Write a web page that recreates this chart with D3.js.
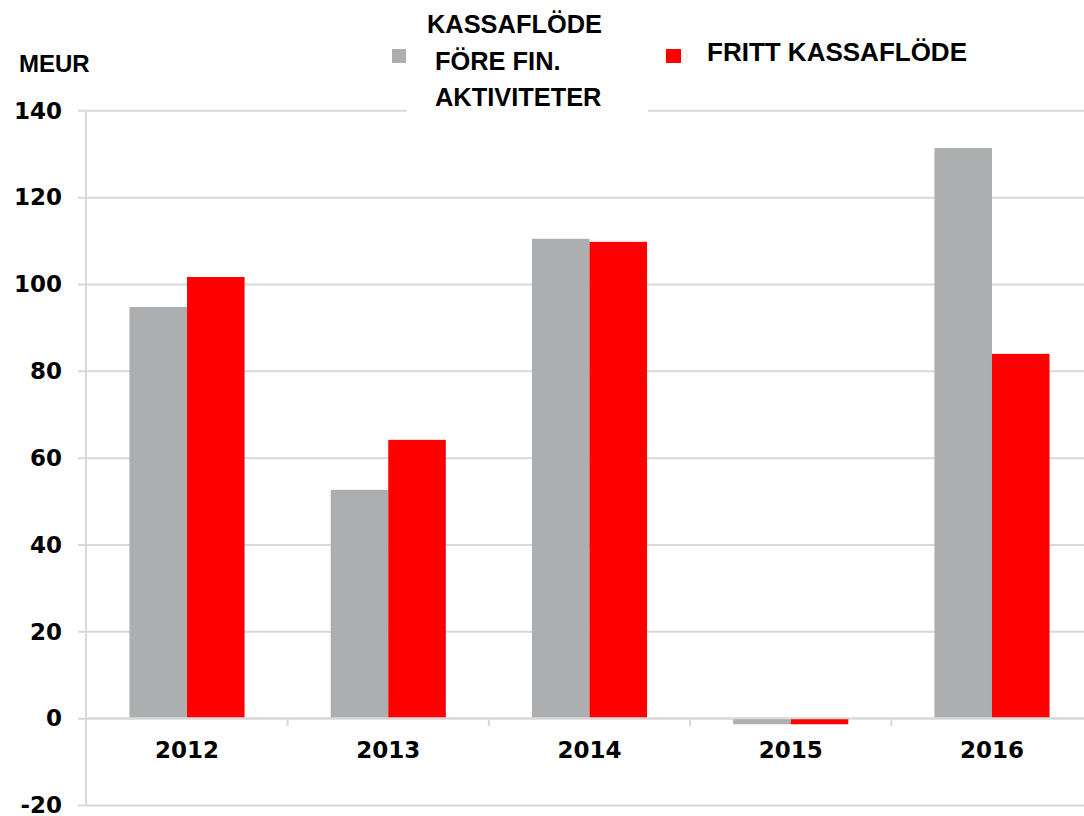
<!DOCTYPE html>
<html>
<head>
<meta charset="utf-8">
<script src="https://cdn.jsdelivr.net/npm/d3@7"></script>
<style>
  body { margin: 0; background: #fff; }
  svg { display: block; }
</style>
</head>
<body>
<script>
const YEARS = ["2012", "2013", "2014", "2015", "2016"];
const CASHFLOW_BEFORE_FIN = [94.7, 52.6, 110.4, -1.4, 131.3];
const FREE_CASHFLOW = [101.6, 64.1, 109.7, -1.4, 83.9];
const SERIES_NAMES = ["KASSAFLÖDE FÖRE FIN. AKTIVITETER", "FRITT KASSAFLÖDE"];
const Y_TICKS = [-20, 0, 20, 40, 60, 80, 100, 120, 140];

const width = 1084,
  height = 816;

const colors = ["#adaeb0", "#ff0000"];
const gridColor = "#d9d9d9";

const svg = d3
  .select("body")
  .append("svg")
  .attr("width", width)
  .attr("height", height);

const yScale = d3.scaleLinear().domain([-20, 140]).range([805, 110.3]);

const xScale = d3
  .scaleBand()
  .domain(YEARS)
  .range([86.4, 1092.6])
  .paddingInner(0.428)
  .paddingOuter(0.214);

const xInner = d3
  .scaleBand()
  .domain([0, 1])
  .range([0, xScale.bandwidth()]);

// gridlines + y axis
const yAxis = d3
  .axisLeft(yScale)
  .tickValues(Y_TICKS)
  .tickSize(-(width - 78))
  .tickSizeOuter(0)
  .tickPadding(24)
  .tickFormat(d => String(d));

const yG = svg
  .append("g")
  .attr("transform", "translate(86,0)")
  .call(yAxis);

yG.select(".domain").remove();
yG.selectAll(".tick line")
  .attr("x1", -8)
  .attr("x2", width - 86)
  .attr("stroke", gridColor)
  .attr("stroke-width", 2);
yG.selectAll(".tick text")
  .attr("fill", "#000")
  .attr("font-family", "DejaVu Sans")
  .attr("font-weight", "bold")
  .attr("font-size", 23)
  .attr("dy", "0.34em");

// vertical axis line
svg
  .append("line")
  .attr("x1", 86)
  .attr("x2", 86)
  .attr("y1", yScale(140))
  .attr("y2", yScale(-20))
  .attr("stroke", gridColor)
  .attr("stroke-width", 2);

// bars
const rows = YEARS.map((year, i) => ({
  year,
  values: [CASHFLOW_BEFORE_FIN[i], FREE_CASHFLOW[i]]
}));

const groups = svg
  .selectAll("g.year")
  .data(rows)
  .enter()
  .append("g")
  .attr("class", "year")
  .attr("transform", d => `translate(${xScale(d.year)},0)`);

groups
  .selectAll("rect")
  .data(d => d.values)
  .enter()
  .append("rect")
  .attr("x", (d, i) => xInner(i))
  .attr("width", xInner.bandwidth())
  .attr("y", d => yScale(Math.max(0, d)))
  .attr("height", d => Math.abs(yScale(d) - yScale(0)))
  .attr("fill", (d, i) => colors[i]);

// x axis (category ticks at zero line)
const xAxis = d3
  .axisBottom(xScale)
  .tickSize(0)
  .tickPadding(24);

const xG = svg
  .append("g")
  .attr("transform", `translate(0,${yScale(0)})`)
  .call(xAxis);

xG.select(".domain")
  .attr("d", `M86,0H${width}`)
  .attr("stroke", gridColor)
  .attr("stroke-width", 2);
xG.selectAll(".tick text")
  .attr("fill", "#000")
  .attr("font-family", "DejaVu Sans")
  .attr("font-weight", "bold")
  .attr("font-size", 23);

// boundary ticks between categories
xG.selectAll("line.sep")
  .data(YEARS.slice(1))
  .enter()
  .append("line")
  .attr("class", "sep")
  .attr("x1", d => xScale(d) - xScale.step() * 0.214)
  .attr("x2", d => xScale(d) - xScale.step() * 0.214)
  .attr("y1", 0)
  .attr("y2", 8)
  .attr("stroke", gridColor)
  .attr("stroke-width", 2);

// unit label
svg
  .append("text")
  .attr("x", 19)
  .attr("y", 72)
  .attr("font-family", "Liberation Sans")
  .attr("font-weight", "bold")
  .attr("font-size", 24)
  .text("MEUR");

// legend
const legend = svg.append("g").attr("class", "legend");

legend
  .append("rect")
  .attr("x", 407)
  .attr("y", 0)
  .attr("width", 241)
  .attr("height", 114)
  .attr("fill", "#fff");

legend
  .append("rect")
  .attr("x", 392)
  .attr("y", 49)
  .attr("width", 14)
  .attr("height", 14)
  .attr("fill", colors[0]);

const legendLines = ["KASSAFLÖDE", "FÖRE FIN.", "AKTIVITETER"];
legend
  .append("text")
  .attr("font-family", "Liberation Sans")
  .attr("font-weight", "bold")
  .attr("font-size", 25.4)
  .selectAll("tspan")
  .data(legendLines)
  .enter()
  .append("tspan")
  .attr("x", (d, i) => (i === 0 ? 427 : 435))
  .attr("y", (d, i) => 33 + i * 36.5)
  .text(d => d);

legend
  .append("rect")
  .attr("x", 666)
  .attr("y", 49)
  .attr("width", 15)
  .attr("height", 14)
  .attr("fill", colors[1]);

legend
  .append("text")
  .attr("x", 707)
  .attr("y", 61)
  .attr("font-family", "Liberation Sans")
  .attr("font-weight", "bold")
  .attr("font-size", 26)
  .text(SERIES_NAMES[1]);
</script>
</body>
</html>
